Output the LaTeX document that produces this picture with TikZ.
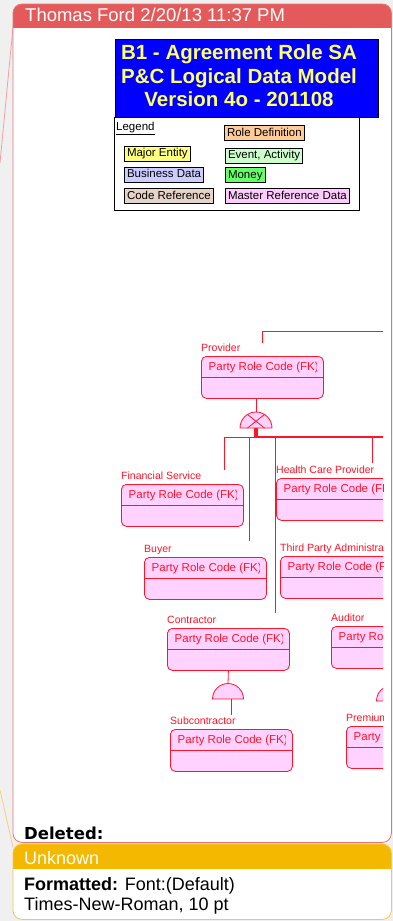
\documentclass[tikz,border=0pt]{standalone}
\usepackage{fontspec}
\setmainfont{Liberation Sans}
\newfontfamily\dejavu{DejaVu Sans}
\usetikzlibrary{positioning, calc}

\definecolor{bggrey}{RGB}{240,240,240}
\definecolor{cmtred}{RGB}{228,90,90}
\definecolor{cmtedge}{RGB}{232,115,115}
\definecolor{cmtlink}{RGB}{240,160,160}
\definecolor{cmtyellow}{RGB}{245,184,0}
\definecolor{yedge}{RGB}{246,200,80}
\definecolor{ylink}{RGB}{245,208,128}
\definecolor{erred}{RGB}{255,20,40}
\definecolor{epink}{RGB}{255,210,255}
\definecolor{titleblue}{RGB}{0,0,255}
\definecolor{titleyellow}{RGB}{255,255,102}
\definecolor{roledef}{RGB}{255,204,153}
\definecolor{majorent}{RGB}{255,255,128}
\definecolor{eventact}{RGB}{204,255,204}
\definecolor{busdata}{RGB}{204,204,255}
\definecolor{money}{RGB}{102,255,102}
\definecolor{coderef}{RGB}{230,212,200}
\definecolor{masterref}{RGB}{255,204,255}

\newcommand{\fsz}[2]{\fontsize{#1pt}{#2pt}\selectfont}

\begin{document}
\begin{tikzpicture}[x=1pt, y=-1pt,
	entity/.style={draw=erred, fill=epink, line width=0.8pt, rounded corners=5pt, minimum width=122pt, minimum height=42pt, inner sep=0pt, anchor=north west},
	elabel/.style={text=erred, font=\fsz{10.5}{12}, inner sep=0pt, anchor=base west},
	etext/.style={text=erred, font=\fsz{11.5}{13}, inner sep=0pt, anchor=base west},
	eline/.style={draw=erred, line width=0.8pt},
	legbox/.style={draw=black, line width=1pt, font=\fsz{11.5}{12}, inner xsep=2.5pt, inner ysep=0pt, text height=8.5pt, text depth=2.5pt, minimum height=15pt, anchor=west},
	cmttext/.style={font=\fsz{18}{20}, inner sep=0pt, anchor=base west}]
		\useasboundingbox (0,0) rectangle (393,921);
		\fill[bggrey] (0,0) rectangle (393,921);
		% links from the margin
		\coordinate (pinkend) at (0,163);
		\coordinate (yelend) at (0,790);
		\draw[cmtlink, line width=0.8pt] (13,27) -- (pinkend);
		\draw[ylink, line width=0.8pt] (13,847) -- (yelend);
		% comment boxes
		\node[fill=white, rounded corners=9pt, minimum width=378pt, minimum height=838pt, anchor=north west, inner sep=0pt] (cmt) at (13,4) {};
		\begin{scope}
			\clip[rounded corners=9pt] (cmt.north west) rectangle (cmt.south east);
			\fill[cmtred] (cmt.north west) rectangle (391,28);
		\end{scope}
		\draw[cmtedge, line width=0.8pt, rounded corners=9pt] (cmt.north west) rectangle (cmt.south east);
		\node[fill=white, rounded corners=9pt, minimum width=378pt, minimum height=75pt, anchor=north west, inner sep=0pt] (fmtbox) at (13,844) {};
		\begin{scope}
			\clip[rounded corners=9pt] (fmtbox.north west) rectangle (fmtbox.south east);
			\fill[cmtyellow] (fmtbox.north west) rectangle (391,869);
		\end{scope}
		\draw[yedge, line width=0.8pt, rounded corners=9pt] (fmtbox.north west) rectangle (fmtbox.south east);
		\node[cmttext, text=white, font=\fsz{18.5}{20}] (author) at (25,21.5) {Thomas Ford 2/20/13 11:37 PM};
		\node[cmttext, font=\dejavu\bfseries\fsz{16.5}{18}] (deleted) at (24,839) {Deleted:};
		\node[cmttext, text=white] (unknown) at (24,864) {Unknown};
		\node[cmttext] (fmt1) at (24,890) {\textbf{Formatted:} Font:(Default)};
		\node[cmttext] (fmt2) at ([yshift=-20pt]fmt1.base west) {Times-New-Roman, 10 pt};
		% the model
		\begin{scope}
			\clip (14,29) rectangle (383,841);
			\node[draw=black, line width=1.2pt, fill=titleblue, minimum width=263pt, minimum height=78pt, anchor=north west, inner sep=0pt] (title) at (115,39) {};
			\node[text=titleyellow, font=\bfseries\fsz{20.5}{23.5}, align=center] (titletext) at (239,76) {B1 - Agreement Role SA\\P\&C Logical Data Model\\Version 4o - 201108};
			\node[draw=black, line width=0.8pt, fill=white, minimum width=245pt, minimum height=93pt, anchor=north west, inner sep=0pt] (legend) at (114,117) {};
			\node[font=\fsz{11.5}{12}, inner sep=0pt, anchor=base west] (legtitle) at (116,130) {\underline{Legend}};
			\node[legbox, fill=roledef] (roledef) at (224,133) {Role Definition};
			\node[legbox, fill=majorent] (major) at (124,153.5) {Major Entity};
			\node[legbox, fill=eventact] (event) at (225,155.5) {Event, Activity};
			\node[legbox, fill=busdata] (busdata) at (124,174.5) {Business Data};
			\node[legbox, fill=money] (money) at (225,175) {Money};
			\node[legbox, fill=coderef] (coderef) at (124,196) {Code Reference};
			\node[legbox, fill=masterref] (masterref) at (225,196) {Master Reference Data};
			% entities
			\foreach \nm/\lab/\x/\y in {prov/Provider/201/356, fin/Financial Service/121/484, hcp/Health Care Provider/276/478, buy/Buyer/144/557, tpa/Third Party Administrator/280/556, con/Contractor/167/628, aud/Auditor/331/626, sub/Subcontractor/170/729, prem/Premium/346/726} {
				\node[entity] (\nm) at (\x,\y) {};
				\node[elabel] (\nm-lab) at ([yshift=5pt]\nm.north west) {\lab};
				\begin{scope}
					\clip ([xshift=1pt]\nm.north west) rectangle ([xshift=-7.5pt]\nm.south east);
					\node[etext] (\nm-key) at ([shift={(7.5pt,-14pt)}]\nm.north west) {Party Role Code (FK)};
				\end{scope}
				\draw[eline] ([yshift=-21pt]\nm.north west) -- ([yshift=-21pt]\nm.north east);
			}
			% Provider subtypes
			\coordinate (cat1) at (256,428);
			\coordinate (bar1) at (256,437);
			\coordinate (topright) at (390,331);
			\draw[eline] ([yshift=13pt]prov.north) |- (topright);
			\draw[eline] (cat1 |- prov.south) -- ([yshift=16pt]cat1);
			\draw[eline, fill=epink] ([xshift=-16pt]cat1) arc[start angle=180, end angle=360, radius=16] -- cycle;
			\draw[eline] ($(cat1)+(-8.5,-13.5)$) -- ($(cat1)+(8.5,0)$);
			\draw[eline] ($(cat1)+(8.5,-13.5)$) -- ($(cat1)+(-8.5,0)$);
			\draw[erred, line width=4pt] (cat1) -- (bar1);
			\draw[erred, line width=2.5pt] (bar1) -- (bar1 -| topright);
			\coordinate (finend) at (224,470);
			\coordinate (buyend) at (249,541);
			\coordinate (conend) at (275,613);
			\coordinate (hcpend) at (372,463);
			\foreach \to in {finend,buyend,conend,hcpend}
				\draw[eline] (bar1) -| (\to);
			% Contractor subtype
			\coordinate (cat2) at (228,699);
			\draw[eline] (con.south) -- ([yshift=15.5pt]cat2);
			\draw[eline, fill=epink] ([xshift=-15.5pt]cat2) arc[start angle=180, end angle=360, radius=15.5] -- cycle;
			\draw[eline] (cat2 -| sub.north) -- ++(0,16);
			% Auditor subtype
			\coordinate (cat3) at (392,701);
			\draw[eline] (aud.south) -- ([yshift=15.5pt]cat3);
			\draw[eline, fill=epink] ([xshift=-15.5pt]cat3) arc[start angle=180, end angle=360, radius=15.5] -- cycle;
		\end{scope}
\end{tikzpicture}
\end{document}
